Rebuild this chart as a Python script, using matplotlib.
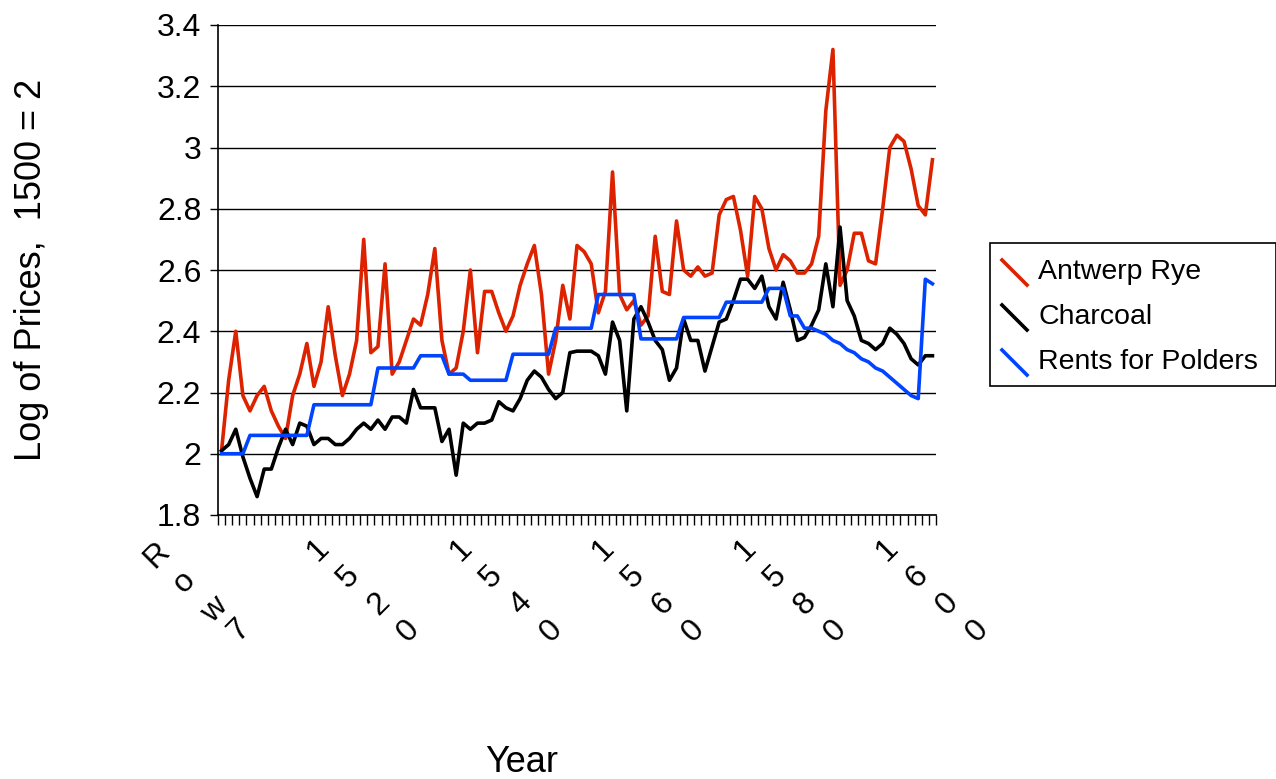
import numpy as np
import matplotlib.pyplot as plt
from matplotlib.lines import Line2D
from matplotlib.patches import Rectangle

plt.rcParams['font.family'] = ['Liberation Sans', 'DejaVu Sans']

# ── Data ──────────────────────────────────────────────────────────────────────
rye = [2.01, 2.24, 2.40, 2.19, 2.14, 2.19, 2.22, 2.14, 2.09,
       2.05, 2.19, 2.26, 2.36, 2.22, 2.30, 2.48, 2.32, 2.19, 2.26,
       2.37, 2.70, 2.33, 2.35, 2.62, 2.26, 2.30, 2.37, 2.44, 2.42,
       2.52, 2.67, 2.37, 2.26, 2.28, 2.40, 2.60, 2.33, 2.53, 2.53,
       2.46, 2.40, 2.45, 2.55, 2.62, 2.68, 2.52, 2.26, 2.37, 2.55,
       2.44, 2.68, 2.66, 2.62, 2.46, 2.53, 2.92, 2.52, 2.47, 2.50,
       2.42, 2.45, 2.71, 2.53, 2.52, 2.76, 2.60, 2.58, 2.61, 2.58,
       2.59, 2.78, 2.83, 2.84, 2.73, 2.58, 2.84, 2.80, 2.67, 2.60,
       2.65, 2.63, 2.59, 2.59, 2.62, 2.71, 3.12, 3.32, 2.55, 2.60,
       2.72, 2.72, 2.63, 2.62, 2.80, 3.00, 3.04, 3.02, 2.93, 2.81,
       2.78, 2.96]

charcoal = [2.01, 2.03, 2.08, 1.99, 1.92, 1.86, 1.95, 1.95, 2.02, 2.08,
            2.03, 2.10, 2.09, 2.03, 2.05, 2.05, 2.03, 2.03, 2.05, 2.08,
            2.10, 2.08, 2.11, 2.08, 2.12, 2.12, 2.10, 2.21, 2.15, 2.15,
            2.15, 2.04, 2.08, 1.93, 2.10, 2.08, 2.10, 2.10, 2.11, 2.17,
            2.15, 2.14, 2.18, 2.24, 2.27, 2.25, 2.21, 2.18, 2.20, 2.33,
            2.335, 2.335, 2.335, 2.32, 2.26, 2.43, 2.37, 2.14, 2.44, 2.48,
            2.43, 2.37, 2.34, 2.24, 2.28, 2.44, 2.37, 2.37, 2.27, 2.35,
            2.43, 2.44, 2.50, 2.57, 2.57, 2.54, 2.58, 2.48, 2.44, 2.56,
            2.47, 2.37, 2.38, 2.42, 2.47, 2.62, 2.48, 2.74, 2.50, 2.45,
            2.37, 2.36, 2.34, 2.36, 2.41, 2.39, 2.36, 2.31, 2.29, 2.32,
            2.32]

rents = ([2.0] * 4 + [2.06] * 9 + [2.16] * 9 + [2.28] * 6 + [2.32] * 4
         + [2.26] * 3 + [2.24] * 6 + [2.325] * 6 + [2.41] * 6 + [2.52] * 6
         + [2.375] * 6 + [2.445] * 6 + [2.495] * 6 + [2.54] * 3 + [2.45] * 2
         + [2.41] * 2
         + [2.40, 2.39, 2.37, 2.36, 2.34, 2.33, 2.31, 2.30, 2.28, 2.27,
            2.25, 2.23, 2.21, 2.19, 2.18]
         + [2.57, 2.555])

cat_labels = {0: 'Row 7', 20: '1520', 40: '1540', 60: '1560', 80: '1580', 100: '1600'}
y_ticks = [1.8, 2.0, 2.2, 2.4, 2.6, 2.8, 3.0, 3.2, 3.4]
y_tick_labels = ['1.8', '2', '2.2', '2.4', '2.6', '2.8', '3', '3.2', '3.4']

series = [('Antwerp Rye', rye, '#dd2200'),
          ('Charcoal', charcoal, '#000000'),
          ('Rents for Polders', rents, '#0044ff')]

# ── Layout ────────────────────────────────────────────────────────────────────
W, H = 1276, 779
fig = plt.figure(figsize=(W / 100, H / 100), dpi=100, facecolor='white')
ax = fig.add_axes([218 / W, (H - 515) / H, 718 / W, 490 / H])

for name, vals, color in series:
    ax.plot(np.arange(len(vals)), vals, color=color, lw=2.6, zorder=3)

ax.set_xlim(-0.5, 100.5)
ax.set_ylim(1.8, 3.4)
ax.set_yticks(y_ticks)
ax.set_yticklabels(y_tick_labels, fontsize=23)
ax.yaxis.grid(True, color='#000000', lw=1.0)
ax.set_axisbelow(True)
ax.set_xticks(np.arange(-0.5, 101, 1))
ax.set_xticklabels([])
ax.tick_params(axis='x', length=7, width=1, direction='out')
ax.tick_params(axis='y', length=6, width=1, direction='out', pad=6)
for sp in ['top', 'right']:
    ax.spines[sp].set_visible(False)
for sp in ['left', 'bottom']:
    ax.spines[sp].set_linewidth(1.2)

# Excel-style diagonal category labels, one rotated glyph at a time
for i, lab in cat_labels.items():
    if lab.startswith('Row'):
        offs = [(-65, -40), (-37, -67), (-7, -95), (17, -115)]
    else:
        offs = [(-45 + 30 * k, -35 - 27 * k) for k in range(4)]
    chars = [c for c in lab if c != ' ']
    for ch, (dx, dy) in zip(chars, offs):
        ax.annotate(ch, xy=(i, 0), xycoords=('data', 'axes fraction'),
                    xytext=(dx, dy), textcoords='offset pixels',
                    ha='center', va='center', fontsize=23, rotation=45)

fig.text(522 / W, 1 - 762 / H, 'Year', ha='center', va='center', fontsize=26)
fig.text(32 / W, 1 - 270 / H, 'Log of Prices,  1500 = 2', ha='center', va='center',
         rotation=90, fontsize=26)

# Legend drawn by hand (diagonal markers like Excel)
fig.add_artist(Rectangle((990 / W, 1 - 386 / H), 286 / W, 143 / H,
                         transform=fig.transFigure, fill=False, ec='black', lw=1.2))
for k, (name, vals, color) in enumerate(series):
    yc = 272 + 45 * k
    fig.add_artist(Line2D([1002 / W, 1027 / W], [1 - (yc - 12) / H, 1 - (yc + 13) / H],
                          transform=fig.transFigure, color=color, lw=2.6))
    fig.text(1038 / W, 1 - yc / H, name, ha='left', va='center', fontsize=20.5)

fig.savefig('out.png', dpi=100)
